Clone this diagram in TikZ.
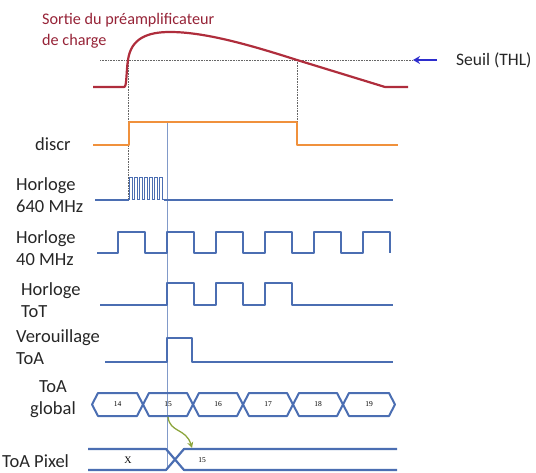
\documentclass[tikz,border=0pt]{standalone}
\usepackage{fontspec}
\setmainfont{Carlito}
\newfontfamily\numfont{Liberation Serif}
\usetikzlibrary{arrows.meta}
\definecolor{preamp}{RGB}{175,45,60}
\definecolor{preamptxt}{RGB}{150,35,55}
\definecolor{discrc}{RGB}{240,145,60}
\definecolor{sig}{RGB}{75,110,178}
\definecolor{thl}{RGB}{45,45,205}
\definecolor{link}{RGB}{140,165,60}
\begin{document}
\begin{tikzpicture}[x=1pt, y=-1pt,
    lbl/.style={font=\fontsize{18.5}{22}\selectfont, align=left, inner sep=0pt, text=black!85},
    val/.style={font=\numfont\fontsize{7.5}{8}\selectfont, inner sep=0pt},
    wave/.style={line width=2.2pt, sig, line join=round},
    guide/.style={densely dotted, black!60, line width=0.6pt},
    arrow/.style={line width=1.6pt, -{Stealth[length=7pt, width=8pt]}}]
    \useasboundingbox (0,0) rectangle (536,473);

    \node [lbl, anchor=west, text=preamptxt, font=\fontsize{16.2}{21}\selectfont] (sortie) at (42,31) {Sortie du préamplificateur\\de charge};
    \node [lbl, anchor=west, font=\fontsize{17.5}{20}\selectfont] (seuil) at (456,60) {Seuil (THL)};
    \node [lbl, anchor=west] (discr) at (35,144) {discr};
    \node [lbl, anchor=west] (h640) at (16,195) {Horloge\\640 MHz};
    \node [lbl, anchor=west] (h40) at (16,248) {Horloge\\40 MHz};
    \node [lbl, anchor=west] (htot) at (21,300) {Horloge\\ToT};
    \node [lbl, anchor=west] (verrou) at (16,347) {Verouillage\\ToA};
    \node [lbl, align=center] (global) at (53,399) {ToA\\global};
    \node [lbl, anchor=west] (pixel) at (2,461) {ToA Pixel};

    \draw [guide] (100,60) -- (413,60);
    \coordinate (thlend) at (413,60);
    \draw [arrow, thl] ([xshift=-19pt]seuil.west) -- (thlend);
    \draw [guide] (128,60) -- (128,200);
    \draw [guide] (297,60) -- (297,122);
    \draw [sig!70, line width=0.6pt] (167,122) -- (167,470);

    \draw [line width=2.2pt, preamp, line join=round] (93,87) -- (124,87)
        .. controls (127,87) and (126,72) .. (128,60)
        .. controls (131,38) and (148,32) .. (170,32)
        .. controls (205,32) and (250,45) .. (297,60) -- (385,87) -- (408,87);

    \draw [line width=2.2pt, discrc, line join=round] (93,145) -- (129,145) -- (129,122) -- (297,122) -- (297,145) -- (398,145);

    \draw [wave] (95,200) -- (129,200);
    \draw [sig, line width=1pt] (129,200) \foreach \k in {0,...,6} { -- ++(0,-22) -- ++(3,0) -- ++(0,22) -- ++(2,0)};
    \draw [wave] (164,200) -- (393,200);

    \draw [wave] (97,253) \foreach \k in {0,...,5} { -- (118+49*\k,253) -- (118+49*\k,232) -- (145+49*\k,232) -- (145+49*\k,253)};

    \draw [wave] (100,305) -- (167,305) -- (167,283) -- (194,283) -- (194,305) -- (216,305) -- (216,283)
        -- (243,283) -- (243,305) -- (265,305) -- (265,283) -- (292,283) -- (292,305) -- (393,305);

    \draw [wave] (105,362) -- (167,362) -- (167,338) -- (192,338) -- (192,362) -- (393,362);

    \foreach \a/\b/\v in {92/143/14, 143/193/15, 193/243/16, 243/293/17, 293/343/18, 343/395/19} {
        \draw [wave, line width=2pt] (\a,404.5) -- (\a+6,393) -- (\b-6,393) -- (\b,404.5) -- (\b-6,416) -- (\a+6,416) -- cycle;
        \node [val] (v\v) at ({(\a+\b)/2},404.5) {\v};
    }

    \draw [wave] (88,449) -- (166,449) -- (184,470) -- (397,470);
    \draw [wave] (88,470) -- (166,470) -- (184,449) -- (397,449);
    \node [val, font=\numfont\fontsize{10}{10}\selectfont] (px) at (128,460) {X};
    \node [val] (p15) at (202,460) {15};

    \coordinate (linkstart) at (168,417);
    \coordinate (linkend) at (192,448);
    \draw [link, line width=1.3pt, -{Stealth[length=6pt, width=6pt]}] (linkstart) .. controls (170,433) and (186,428) .. (linkend);
\end{tikzpicture}
\end{document}
